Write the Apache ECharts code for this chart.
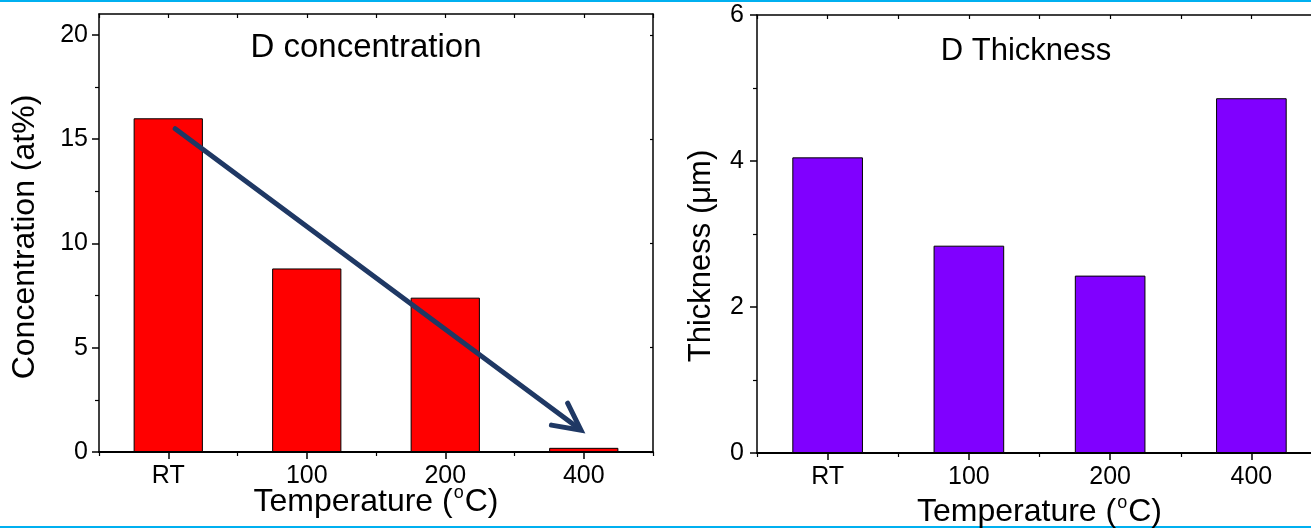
<!DOCTYPE html>
<html>
<head>
<meta charset="utf-8">
<script src="https://cdn.jsdelivr.net/npm/echarts@6/dist/echarts.min.js"></script>
<style>html,body{margin:0;padding:0;background:#fff;}#c{width:1311px;height:529px;}</style>
</head>
<body>
<div id="c"></div>
<script>
const categories = ['RT', '100', '200', '400'];
const concentration = [16.0, 8.8, 7.4, 0.2];
const thickness = [4.05, 2.84, 2.43, 4.86];
const concMajorTicks = [0, 5, 10, 15, 20];
const concMinorTicks = [2.5, 7.5, 12.5, 17.5];
const thickMajorTicks = [0, 2, 4, 6];
const thickMinorTicks = [1, 3, 5];
// arrow annotation in data space: [xIndex, y] -> [xIndex, y]
const arrowLine = [[0.05, 15.5, 2.98, 1.05]];

const FONT = 'Liberation Sans, Arial, sans-serif';
const BLACK = '#000';
const AXW = 1.5;

function catAxis(grid, pos, opts) {
  return Object.assign({
    type: 'category', gridIndex: grid, position: pos, data: categories,
    boundaryGap: true,
    axisLine: { show: false, onZero: false, lineStyle: { color: BLACK, width: AXW } },
    axisTick: { show: false },
    axisLabel: { show: false },
    splitLine: { show: false }
  }, opts);
}

function valAxis(grid, pos, max, opts) {
  return Object.assign({
    type: 'value', gridIndex: grid, position: pos, min: 0, max: max,
    axisLine: { show: false, onZero: false, lineStyle: { color: BLACK, width: AXW } },
    axisTick: { show: false },
    axisLabel: { show: false },
    splitLine: { show: false }
  }, opts);
}

const xAxes = [];
const yAxes = [];
[0, 1].forEach(function (g) {
  // bottom: labels + major ticks at centres
  xAxes.push(catAxis(g, 'bottom', {
    axisLine: { show: true, onZero: false, lineStyle: { color: BLACK, width: 2 } },
    axisTick: { show: true, alignWithLabel: true, length: 7, lineStyle: { color: BLACK, width: 1.5 } },
    axisLabel: { show: true, fontSize: 25, fontFamily: FONT, color: BLACK, margin: 12 },
    name: 'Temperature ({sup|o}C)', nameLocation: 'middle', nameGap: g === 0 ? 32 : 41,
    nameMoveOverlap: false,
    nameTextStyle: { fontSize: 32, fontFamily: FONT, color: BLACK, lineHeight: 36,
      rich: { sup: { fontSize: 18, fontFamily: FONT, color: BLACK, verticalAlign: 'top', lineHeight: 36, padding: [0, 1, 16, 1] } } }
  }));
  // bottom: minor ticks at boundaries
  xAxes.push(catAxis(g, 'bottom', {
    axisTick: { show: true, alignWithLabel: false, length: 4, lineStyle: { color: BLACK, width: 1.2 } }
  }));
  // top: frame line + inward ticks
  xAxes.push(catAxis(g, 'top', {
    axisLine: { show: true, onZero: false, lineStyle: { color: BLACK, width: AXW } },
    axisTick: { show: true, inside: true, alignWithLabel: true, length: 4, lineStyle: { color: BLACK, width: 1.2 } }
  }));
  xAxes.push(catAxis(g, 'top', {
    axisTick: { show: true, inside: true, alignWithLabel: false, length: 4, lineStyle: { color: BLACK, width: 1.2 } }
  }));
});
// hidden value x axis for the arrow annotation (left panel)
xAxes.push({ type: 'value', gridIndex: 0, min: -0.5, max: 3.5, show: false, axisLine: { onZero: false } });

const maxes = [21, 6];
const majors = [concMajorTicks, thickMajorTicks];
const minors = [concMinorTicks, thickMinorTicks];
[0, 1].forEach(function (g) {
  yAxes.push(valAxis(g, 'left', maxes[g], {
    axisLine: { show: true, onZero: false, lineStyle: { color: BLACK, width: AXW } },
    axisTick: { show: true, length: 7, customValues: majors[g], lineStyle: { color: BLACK, width: 1.5 } },
    axisLabel: { show: true, customValues: majors[g], fontSize: 25, fontFamily: FONT, color: BLACK, margin: g === 0 ? 11 : 13 }
  }));
  yAxes.push(valAxis(g, 'left', maxes[g], {
    axisTick: { show: true, length: 4, customValues: minors[g], lineStyle: { color: BLACK, width: 1.2 } }
  }));
  yAxes.push(valAxis(g, 'right', maxes[g], {
    axisLine: { show: g === 0, onZero: false, lineStyle: { color: BLACK, width: AXW } },
    axisTick: { show: g === 0, inside: true, length: 3, customValues: majors[g], lineStyle: { color: BLACK, width: 1.2 } }
  }));
});

const arrowColor = '#1f3864';

const option = {
  animation: false,
  backgroundColor: '#fff',
  grid: [
    { left: 99, top: 14, width: 554, height: 438, outerBoundsMode: 'none', containLabel: false },
    { left: 757, top: 15, right: -11, height: 438, outerBoundsMode: 'none', containLabel: false }
  ],
  xAxis: xAxes,
  yAxis: yAxes,
  series: [
    {
      type: 'bar', xAxisIndex: 0, yAxisIndex: 0, data: concentration, barWidth: '50%',
      itemStyle: { color: '#ff0000', borderColor: BLACK, borderWidth: 1 }
    },
    {
      type: 'bar', xAxisIndex: 4, yAxisIndex: 3, data: thickness, barWidth: '50%',
      itemStyle: { color: '#8000ff', borderColor: BLACK, borderWidth: 1 }
    },
    {
      type: 'custom', xAxisIndex: 8, yAxisIndex: 0, z: 10,
      data: arrowLine,
      encode: { x: [0, 2], y: [1, 3] },
      renderItem: function (params, api) {
        const p0 = api.coord([api.value(0), api.value(1)]);
        const p1 = api.coord([api.value(2), api.value(3)]);
        const ang = Math.atan2(p0[1] - p1[1], p0[0] - p1[0]);
        const L = 30, a = 27 * Math.PI / 180;
        const h1 = [p1[0] + L * Math.cos(ang + a), p1[1] + L * Math.sin(ang + a)];
        const h2 = [p1[0] + L * Math.cos(ang - a), p1[1] + L * Math.sin(ang - a)];
        return {
          type: 'group',
          children: [
            { type: 'line', shape: { x1: p0[0], y1: p0[1], x2: p1[0] + 3 * Math.cos(ang), y2: p1[1] + 3 * Math.sin(ang) },
              style: { stroke: arrowColor, lineWidth: 5, lineCap: 'round' } },
            { type: 'polyline', shape: { points: [h1, p1, h2] },
              style: { stroke: arrowColor, fill: null, lineWidth: 5, lineCap: 'round', lineJoin: 'miter' } }
          ]
        };
      }
    }
  ],
  graphic: [
    { type: 'rect', shape: { x: 0, y: 0, width: 1311, height: 2 }, style: { fill: '#00b0f0' } },
    { type: 'rect', shape: { x: 0, y: 526, width: 1311, height: 2 }, style: { fill: '#00b0f0' } },
    { type: 'text', x: 366, y: 48, style: { text: 'D concentration', font: '33px ' + FONT, fill: BLACK, textAlign: 'center', textVerticalAlign: 'middle' } },
    { type: 'text', x: 1026, y: 51, style: { text: 'D Thickness', font: '31px ' + FONT, fill: BLACK, textAlign: 'center', textVerticalAlign: 'middle' } },
    { type: 'text', x: 25, y: 237, rotation: Math.PI / 2, style: { text: 'Concentration (at%)', font: '32px ' + FONT, fill: BLACK, textAlign: 'center', textVerticalAlign: 'middle' } },
    { type: 'text', x: 701, y: 256, rotation: Math.PI / 2, style: { text: 'Thickness (\u03bcm)', font: '31px ' + FONT, fill: BLACK, textAlign: 'center', textVerticalAlign: 'middle' } }
  ]
};

const chart = echarts.init(document.getElementById('c'));
chart.setOption(option);
</script>
</body>
</html>
